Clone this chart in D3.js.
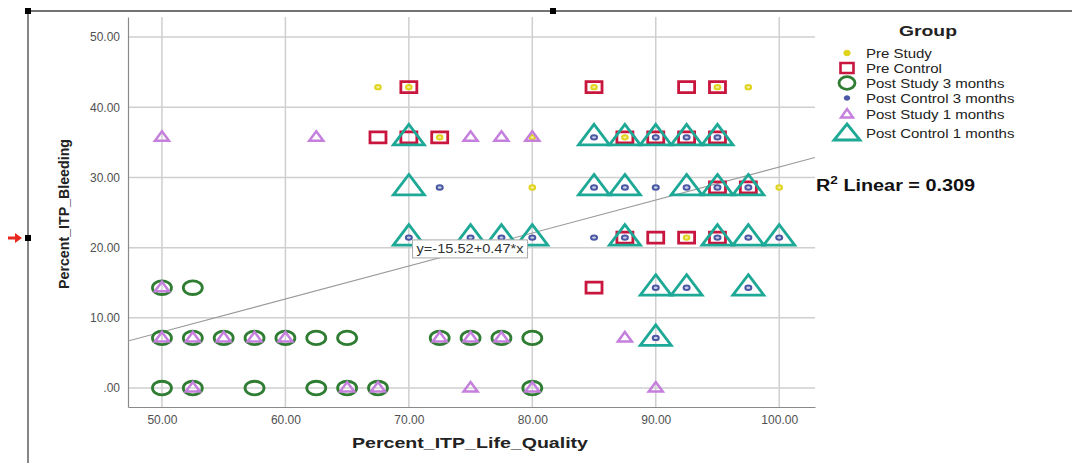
<!DOCTYPE html>
<html><head><meta charset="utf-8">
<script src="https://cdn.jsdelivr.net/npm/d3@7"></script>
<style>body{margin:0;background:#fff}svg{display:block}text{font-family:"Liberation Sans",Arial,sans-serif}</style>
</head><body><svg id="c" width="1072" height="463"></svg>
<script>
// ---- data (Percent_ITP_Life_Quality, Percent_ITP_Bleeding) ----
const seriesNames = ["Pre Study","Pre Control","Post Study 3 months","Post Control 3 months","Post Study 1 months","Post Control 1 months"];
const preStudyX = [67.5,70,85,95,97.5, 72.5,80,87.5, 80,100, 92.5];
const preStudyY = [42.86,42.86,42.86,42.86,42.86, 35.71,35.71,35.71, 28.57,28.57, 21.43];
const preControlX = [70,85,92.5,95, 67.5,70,72.5,87.5,90,92.5,95, 95,97.5, 87.5,90,92.5,95, 85];
const preControlY = [42.86,42.86,42.86,42.86, 35.71,35.71,35.71,35.71,35.71,35.71,35.71, 28.57,28.57, 21.43,21.43,21.43,21.43, 14.29];
const postStudy3X = [50,52.5, 50,52.5,55,57.5,60,62.5,65,72.5,75,77.5,80, 50,52.5,57.5,62.5,65,67.5,80];
const postStudy3Y = [14.29,14.29, 7.14,7.14,7.14,7.14,7.14,7.14,7.14,7.14,7.14,7.14,7.14, 0,0,0,0,0,0,0];
const postControl3X = [85,90,92.5,95, 72.5,85,87.5,90,92.5,95,97.5, 70,75,77.5,80,85,87.5,95,97.5,100, 90,92.5,97.5, 90];
const postControl3Y = [35.71,35.71,35.71,35.71, 28.57,28.57,28.57,28.57,28.57,28.57,28.57, 21.43,21.43,21.43,21.43,21.43,21.43,21.43,21.43,21.43, 14.29,14.29,14.29, 7.14];
const postStudy1X = [50,62.5,75,77.5,80, 50, 50,52.5,55,57.5,60,72.5,75,77.5,87.5, 52.5,65,67.5,75,80,90];
const postStudy1Y = [35.71,35.71,35.71,35.71,35.71, 14.29, 7.14,7.14,7.14,7.14,7.14,7.14,7.14,7.14,7.14, 0,0,0,0,0,0];
const postControl1X = [70,85,87.5,90,92.5,95, 70,85,87.5,92.5,95,97.5, 70,75,77.5,80,87.5,95,97.5,100, 90,92.5,97.5, 90];
const postControl1Y = [35.71,35.71,35.71,35.71,35.71,35.71, 28.57,28.57,28.57,28.57,28.57,28.57, 21.43,21.43,21.43,21.43,21.43,21.43,21.43,21.43, 14.29,14.29,14.29, 7.14];
const xTicks = [50,60,70,80,90,100];
const yTicks = [0,10,20,30,40,50];
const fitIntercept = -15.52, fitSlope = 0.47, rSquared = 0.309;

const svg = d3.select("#c");
const x = d3.scaleLinear().domain([47.25,102.9]).range([128,815]);
const y = d3.scaleLinear().domain([-2.7,52.85]).range([407,17]);
const fmt = d => d===0 ? ".00" : d.toFixed(2);

// frame decorations
svg.append("line").attr("x1",28).attr("y1",11).attr("x2",1072).attr("y2",11).attr("stroke","#444").attr("stroke-width",1.3);
svg.append("line").attr("x1",28).attr("y1",11).attr("x2",28).attr("y2",463).attr("stroke","#444").attr("stroke-width",1.3);
[[28,11],[553,11],[28,238]].forEach(p=>svg.append("rect").attr("x",p[0]-3).attr("y",p[1]-3).attr("width",6).attr("height",6).attr("fill","#000"));
svg.append("path").attr("d","M8,236.5 L15,236.5 L15,233 L22,238 L15,243 L15,239.5 L8,239.5 Z").attr("fill","#e8281e");

// grid
const g = svg.append("g");
g.selectAll(".gx").data(xTicks).join("line").attr("x1",d=>x(d)).attr("x2",d=>x(d)).attr("y1",17).attr("y2",407).attr("stroke","#cfcfcf").attr("stroke-width",1.5);
g.selectAll(".gy").data(yTicks).join("line").attr("y1",d=>y(d)).attr("y2",d=>y(d)).attr("x1",128).attr("x2",815).attr("stroke","#cfcfcf").attr("stroke-width",1.5);

// axes
const ax = svg.append("g").attr("transform","translate(0,407)").call(d3.axisBottom(x).tickValues(xTicks).tickFormat(fmt).tickSize(0).tickPadding(8));
const ay = svg.append("g").attr("transform","translate(128,0)").call(d3.axisLeft(y).tickValues(yTicks).tickFormat(fmt).tickSize(0).tickPadding(8));
[ax,ay].forEach(a=>{a.select(".domain").attr("stroke","#8a8a8a").attr("stroke-width",1.2);
  a.selectAll("text").attr("fill","#505050").style("font-size","12px");});

// regression line
svg.append("clipPath").attr("id","pc").append("rect").attr("x",128).attr("y",17).attr("width",687).attr("height",390);
const xd = x.domain();
svg.append("line").attr("clip-path","url(#pc)")
  .attr("x1",x(xd[0])).attr("y1",y(fitIntercept+fitSlope*xd[0]))
  .attr("x2",x(xd[1])).attr("y2",y(fitIntercept+fitSlope*xd[1]))
  .attr("stroke","#9a9a9a").attr("stroke-width",1.1);

// marker shapes
const shapes = {
  ring: s=> `M${-s.rx},0 a${s.rx},${s.ry} 0 1,0 ${2*s.rx},0 a${s.rx},${s.ry} 0 1,0 ${-2*s.rx},0 Z`,
  rect: s=> `M${-s.w/2},${-s.h/2} h${s.w} v${s.h} h${-s.w} Z`,
  tri: s=> `M0,${s.top} L${s.hw},${s.bot} L${-s.hw},${s.bot} Z`
};
const series = [
  {xs:preStudyX, ys:preStudyY, type:"ring", s:{rx:2.8,ry:2.2}, stroke:"#e0d41e", fill:"#f3ee9a", sw:2},
  {xs:preControlX, ys:preControlY, type:"rect", s:{w:16,h:11}, stroke:"#c8163e", fill:"none", sw:2.8},
  {xs:postStudy3X, ys:postStudy3Y, type:"ring", s:{rx:9.5,ry:6.8}, stroke:"#2f7d32", fill:"none", sw:2.8},
  {xs:postControl3X, ys:postControl3Y, type:"ring", s:{rx:3,ry:2.2}, stroke:"#4a58a4", fill:"#c9cde8", sw:2},
  {xs:postStudy1X, ys:postStudy1Y, type:"tri", s:{hw:7,top:-6,bot:3.5}, stroke:"#c57fdc", fill:"none", sw:2.5},
  {xs:postControl1X, ys:postControl1Y, type:"tri", s:{hw:15.5,top:-13,bot:7.5}, stroke:"#1ea896", fill:"none", sw:2.8}
];
series.forEach(se=>{
  const pts = se.xs.map((v,i)=>[v,se.ys[i]]);
  svg.append("g").selectAll("path").data(pts).join("path")
    .attr("d",shapes[se.type](se.s))
    .attr("transform",d=>`translate(${x(d[0])},${y(d[1])})`)
    .attr("fill",se.fill).attr("stroke",se.stroke).attr("stroke-width",se.sw);
});

// equation label
const bx = x(70.3), by = y(21.1);
svg.append("rect").attr("x",bx).attr("y",by).attr("width",115).attr("height",18).attr("fill","#fff").attr("stroke","#aaa").attr("stroke-width",1);
svg.append("text").attr("x",bx+4).attr("y",by+13.5).attr("fill","#333").style("font-size","12px")
  .attr("textLength",107).attr("lengthAdjust","spacingAndGlyphs").text(`y=${fitIntercept}+${fitSlope}*x`);

// axis titles
svg.append("text").attr("x",470).attr("y",448).attr("text-anchor","middle").style("font-size","14px").style("font-weight","bold").attr("fill","#222")
  .attr("textLength",236).attr("lengthAdjust","spacingAndGlyphs").text("Percent_ITP_Life_Quality");
svg.append("text").attr("transform","translate(69,214) rotate(-90)").attr("text-anchor","middle").style("font-size","14.5px").style("font-weight","bold").attr("fill","#222")
  .attr("textLength",150).attr("lengthAdjust","spacingAndGlyphs").text("Percent_ITP_Bleeding");

// legend
svg.append("text").attr("x",899).attr("y",36).style("font-size","15px").style("font-weight","bold").attr("fill","#222")
  .attr("textLength",58).attr("lengthAdjust","spacingAndGlyphs").text("Group");
const legY = [53,68,83,98,114,133];
const legShapes = [
  {type:"ring", s:{rx:3.2,ry:2.8}, stroke:"#e0d41e", fill:"#e0d41e", sw:1},
  {type:"rect", s:{w:13,h:10}, stroke:"#c8163e", fill:"none", sw:2.6},
  {type:"ring", s:{rx:8,ry:6.3}, stroke:"#2f7d32", fill:"none", sw:2.8},
  {type:"ring", s:{rx:2.8,ry:2.2}, stroke:"#4a58a4", fill:"#4a58a4", sw:1},
  {type:"tri", s:{hw:6,top:-5,bot:3.5}, stroke:"#c57fdc", fill:"none", sw:2.4},
  {type:"tri", s:{hw:13,top:-9,bot:7}, stroke:"#1ea896", fill:"none", sw:2.8}
];
seriesNames.forEach((n,i)=>{
  const ls = legShapes[i];
  svg.append("path").attr("d",shapes[ls.type](ls.s)).attr("transform",`translate(847,${legY[i]})`)
    .attr("fill",ls.fill).attr("stroke",ls.stroke).attr("stroke-width",ls.sw);
  const t = svg.append("text").attr("x",866).attr("y",legY[i]+4.5).style("font-size","12.5px").attr("fill","#222").text(n);
  const w = t.node().getComputedTextLength();
  t.attr("textLength",w*1.2).attr("lengthAdjust","spacingAndGlyphs");
});

// R squared label
const rt = svg.append("text").attr("x",816).attr("y",191).style("font-size","16px").style("font-weight","bold").attr("fill","#111");
rt.append("tspan").text("R");
rt.append("tspan").attr("dy",-7).style("font-size","11px").text("2");
rt.append("tspan").attr("dy",7).text(" Linear = " + rSquared);
const rw = rt.node().getComputedTextLength();
rt.attr("textLength",159).attr("lengthAdjust","spacingAndGlyphs");
</script></body></html>
